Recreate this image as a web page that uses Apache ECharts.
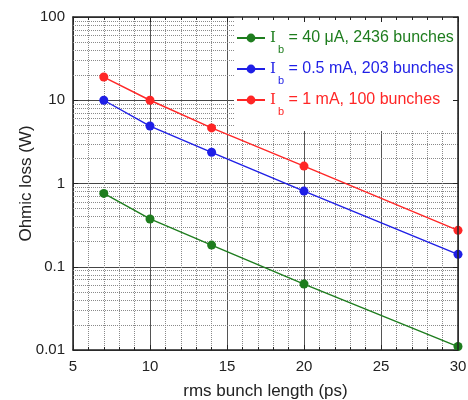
<!DOCTYPE html>
<html>
<head>
<meta charset="utf-8">
<script src="https://cdn.jsdelivr.net/npm/echarts@6/dist/echarts.min.js"></script>
<style>
  html, body { margin: 0; padding: 0; background: #fff; }
  #chart { width: 468px; height: 400px; }
</style>
</head>
<body>
<div id="chart"></div>
<script>
// bunch length (ps)
var bunchLength = [7, 10, 14, 20, 30];
// ohmic loss (W)
var loss40uA = [0.76, 0.375, 0.182, 0.062, 0.011];
var loss05mA = [10, 4.9, 2.37, 0.81, 0.141];
var loss1mA = [19, 10, 4.65, 1.62, 0.274];

var seriesNames = ['= 40 μA, 2436 bunches', '= 0.5 mA, 203 bunches', '= 1 mA, 100 bunches'];
var seriesColors = ['#1e7d1e', '#1f1fe6', '#ff2626'];

// log decades and the 2..9 minor grid lines between them
var decades = [0.01, 0.1, 1, 10];
var yMinor = [];
for (var d = 0; d < decades.length; d++) {
    for (var k = 2; k <= 9; k++) {
        yMinor.push({yAxis: +(k * decades[d]).toPrecision(2)});
    }
}

var chart = echarts.init(document.getElementById('chart'));

function pairs(ys) {
    return bunchLength.map(function (x, i) { return [x, ys[i]]; });
}

var labelFont = 'Liberation Sans';

var xBase = {
    type: 'value',
    min: 5,
    max: 30,
    interval: 5
};
var yBase = {
    type: 'log',
    logBase: 10,
    min: 0.01,
    max: 100
};

function mkSeries(idx, data) {
    var s = {
        name: 'I_b ' + seriesNames[idx],
        type: 'line',
        data: pairs(data),
        symbol: 'circle',
        symbolSize: 9,
        color: seriesColors[idx],
        lineStyle: {width: 1.4},
        z: 3,
        animation: false
    };
    return s;
}

var s0 = mkSeries(0, loss40uA);
// dotted minor grid of the log axis
s0.markLine = {
    silent: true,
    symbol: 'none',
    z: 1,
    label: {show: false},
    lineStyle: {color: '#8a8a8a', type: [1, 1], width: 1},
    data: yMinor,
    animation: false
};

var option = {
    animation: false,
    grid: {left: 73, right: 10, top: 17, bottom: 50, outerBoundsMode: 'none'},
    legend: {
        orient: 'vertical',
        left: 234,
        top: 17,
        itemWidth: 28,
        itemHeight: 11,
        itemGap: 6,
        backgroundColor: '#fff',
        padding: [13, 4, 14, 2],
        z: 4,
        data: seriesNames.map(function (n, i) {
            return {name: 'I_b ' + n, textStyle: {color: seriesColors[i]}};
        }),
        formatter: function (name) {
            return '{i|I}{s|b}{t| ' + name.replace('I_b ', '') + '}';
        },
        textStyle: {
            fontFamily: labelFont,
            fontSize: 16,
            rich: {
                i: {fontFamily: 'DejaVu Serif', fontSize: 15},
                s: {fontFamily: labelFont, fontSize: 11, padding: [23, 0, 0, 2]},
                t: {fontFamily: labelFont, fontSize: 16}
            }
        }
    },
    xAxis: [
        Object.assign({}, xBase, {
            name: 'rms bunch length (ps)',
            nameLocation: 'middle',
            nameGap: 33,
            nameMoveOverlap: false,
            nameTextStyle: {fontFamily: labelFont, fontSize: 17, color: '#222'},
            axisLine: {lineStyle: {color: '#222', width: 1.5}},
            axisTick: {inside: true, length: 5, lineStyle: {color: '#222'}},
            minorTick: {show: true, splitNumber: 5, length: 3, lineStyle: {color: '#222'}},
            axisLabel: {fontFamily: labelFont, fontSize: 15, color: '#222', margin: 9},
            splitLine: {show: true, lineStyle: {color: '#555', width: 1}},
            minorSplitLine: {show: true, lineStyle: {color: '#8a8a8a', type: [1, 1], width: 1}}
        }),
        Object.assign({}, xBase, {
            position: 'top',
            z: 10,
            axisLine: {lineStyle: {color: '#222', width: 1.5}},
            axisTick: {inside: true, length: 5, lineStyle: {color: '#222'}},
            minorTick: {show: true, splitNumber: 5, length: 3, lineStyle: {color: '#222'}},
            axisLabel: {show: false},
            splitLine: {show: false}
        })
    ],
    yAxis: [
        Object.assign({}, yBase, {
            name: 'Ohmic loss (W)',
            nameLocation: 'middle',
            nameGap: 38,
            nameMoveOverlap: false,
            nameTextStyle: {fontFamily: labelFont, fontSize: 17, color: '#222'},
            axisLine: {show: true, lineStyle: {color: '#222', width: 1.5}},
            axisTick: {show: true, inside: true, length: 5, lineStyle: {color: '#222'}},
            axisLabel: {fontFamily: labelFont, fontSize: 15, color: '#222', margin: 8},
            splitLine: {show: true, lineStyle: {color: '#444', width: 1.2}}
        }),
        Object.assign({}, yBase, {
            position: 'right',
            z: 10,
            axisLine: {show: true, lineStyle: {color: '#222', width: 1.5}},
            axisTick: {show: true, inside: true, length: 5, lineStyle: {color: '#222'}},
            axisLabel: {show: false},
            splitLine: {show: false}
        })
    ],
    series: [
        s0,
        mkSeries(1, loss05mA),
        mkSeries(2, loss1mA)
    ]
};

chart.setOption(option);
</script>
</body>
</html>
